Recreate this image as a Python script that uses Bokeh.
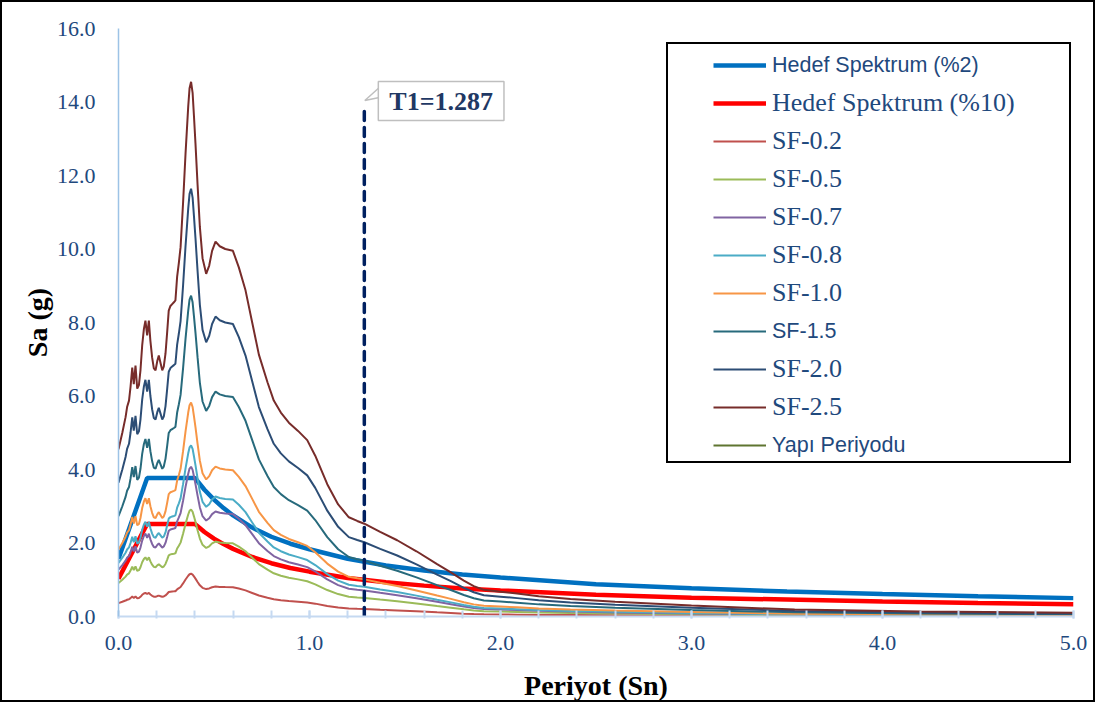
import numpy as np
from bokeh.plotting import figure
from bokeh.models import Legend, LegendItem, FixedTicker, NumeralTickFormatter, Label, Range1d
from bokeh.embed import file_html
from bokeh.resources import INLINE

# ---------------- data ----------------
periods = [0.00, 0.02, 0.037, 0.045, 0.055, 0.063, 0.072, 0.080, 0.089, 0.098,
           0.107, 0.115, 0.124, 0.133, 0.141, 0.150, 0.159, 0.167, 0.176, 0.185,
           0.194, 0.203, 0.211, 0.220, 0.229, 0.237, 0.246, 0.255, 0.263, 0.272,
           0.281, 0.290, 0.298, 0.307, 0.316, 0.325, 0.338, 0.351, 0.365, 0.372,
           0.380, 0.388, 0.395, 0.403, 0.414, 0.426, 0.440, 0.459, 0.475, 0.490,
           0.508, 0.530, 0.559, 0.599, 0.630, 0.665, 0.700, 0.735, 0.780, 0.813,
           0.850, 0.892, 0.940, 0.988, 1.030, 1.093, 1.150, 1.206, 1.250, 1.287,
           1.370, 1.459, 1.560, 1.668, 1.740, 1.808, 1.860, 1.913, 2.000, 2.087,
           2.200, 2.366, 2.600, 3.000, 3.540, 4.200, 5.000]

# spectrum of the record at SF = 1.0 (Sa, g)
base_sa = [1.82, 2.00, 2.17, 2.28, 2.35, 2.50, 2.71, 2.53, 2.73, 2.48,
           2.52, 2.68, 2.95, 3.13, 3.22, 3.06, 3.22, 3.00, 2.82, 2.70,
           2.68, 2.78, 2.84, 2.76, 2.68, 2.72, 2.86, 3.10, 3.33, 3.38,
           3.40, 3.42, 3.44, 3.70, 3.85, 4.02, 4.50, 5.04, 5.55, 5.75,
           5.82, 5.70, 5.45, 5.15, 4.70, 4.24, 3.90, 3.73, 3.82, 3.98,
           4.08, 4.03, 4.00, 3.98, 3.80, 3.55, 3.20, 2.85, 2.55, 2.35,
           2.22, 2.11, 2.02, 1.92, 1.75, 1.44, 1.22, 1.08, 1.04, 1.01,
           0.92, 0.83, 0.71, 0.57, 0.48, 0.39, 0.33, 0.29, 0.27, 0.25,
           0.22, 0.19, 0.16, 0.12, 0.075, 0.055, 0.04]

scale_factors = [0.2, 0.5, 0.7, 0.8, 1.0, 1.5, 2.0, 2.5]
sf_labels = ["SF-0.2", "SF-0.5", "SF-0.7", "SF-0.8", "SF-1.0", "SF-1.5", "SF-2.0", "SF-2.5"]

target_periods = [0.00, 0.15, 0.40, 0.45, 0.50, 0.55, 0.60, 0.70, 0.80, 0.90, 1.00,
                  1.20, 1.40, 1.60, 1.80, 2.00, 2.50, 3.00, 3.50, 4.00, 4.50, 5.00]
target_2 = [1.57, 3.77, 3.77, 3.45, 3.18, 2.95, 2.75, 2.42, 2.17, 1.98, 1.83,
            1.57, 1.39, 1.25, 1.14, 1.06, 0.88, 0.77, 0.68, 0.61, 0.55, 0.50]
target_10 = [1.03, 2.52, 2.52, 2.30, 2.12, 1.97, 1.84, 1.62, 1.45, 1.32, 1.22,
             1.05, 0.93, 0.84, 0.76, 0.71, 0.59, 0.51, 0.46, 0.41, 0.37, 0.335]

t1_period = 1.287
t1_line_sa = [0.0, 13.85]

x_tick_values = [0, 1, 2, 3, 4, 5]
x_minor_values = [round(0.2 * i, 1) for i in range(26)]
y_tick_values = [0, 2, 4, 6, 8, 10, 12, 14, 16]

legend_labels = ["Hedef Spektrum (%2)", "Hedef Spektrum (%10)"] + sf_labels + ["Yapı Periyodu"]

# ---------------- styles ----------------
SERIF = "Liberation Serif"
SANS = "Liberation Sans"
TXT = "#1F497D"
sf_colors = ["#C0504D", "#9BBB59", "#8064A2", "#4BACC6", "#F79646",
             "#276A7C", "#2C4D75", "#772C2A"]

W, H = 1095, 702
MBL, MBR, MBT, MBB = 116, 24, 26, 88
FRAME_W = W - MBL - MBR
FRAME_H = H - MBT - MBB

p = figure(width=W, height=H, x_range=Range1d(0, 5), y_range=Range1d(0, 16),
           output_backend="svg", toolbar_location=None,
           min_border_left=MBL, min_border_right=MBR,
           min_border_top=MBT, min_border_bottom=MBB,
           styles={"border": "2px solid black"})
p.grid.visible = False
p.outline_line_color = None
p.background_fill_color = "white"
p.border_fill_color = "white"

xa = p.xaxis[0]
xa.ticker = FixedTicker(ticks=x_tick_values, minor_ticks=x_minor_values)
xa.formatter = NumeralTickFormatter(format="0.0")
xa.axis_line_color = "#C5D9F1"
xa.axis_line_width = 2
xa.major_tick_line_color = "#C5D9F1"
xa.major_tick_line_width = 2
xa.major_tick_in = 6
xa.major_tick_out = 2
xa.minor_tick_line_color = "#C5D9F1"
xa.minor_tick_line_width = 2
xa.minor_tick_in = 6
xa.minor_tick_out = 2
xa.major_label_text_font = SERIF
xa.major_label_text_font_size = "22px"
xa.major_label_text_color = TXT
xa.major_label_standoff = 17
xa.axis_label = "Periyot (Sn)"
xa.axis_label_text_font = SERIF
xa.axis_label_text_font_size = "28px"
xa.axis_label_text_font_style = "bold"
xa.axis_label_text_color = "black"
xa.axis_label_standoff = 17

ya = p.yaxis[0]
ya.ticker = FixedTicker(ticks=y_tick_values)
ya.formatter = NumeralTickFormatter(format="0.0")
ya.axis_line_color = "#9DC3E6"
ya.axis_line_width = 1.5
ya.major_tick_line_color = None
ya.minor_tick_line_color = None
ya.major_label_text_font = SERIF
ya.major_label_text_font_size = "22px"
ya.major_label_text_color = TXT
ya.major_label_standoff = 17
ya.axis_label = "Sa (g)"
ya.axis_label_text_font = SERIF
ya.axis_label_text_font_size = "28px"
ya.axis_label_text_font_style = "bold"
ya.axis_label_text_color = "black"
ya.axis_label_standoff = 1

# ---------------- series ----------------
renderers = []
renderers.append(p.line(target_periods, target_2, line_color="#0070C0", line_width=4.5))
renderers.append(p.line(target_periods, target_10, line_color="#FF0000", line_width=4.5))
for sf, col in zip(scale_factors, sf_colors):
    renderers.append(p.line(periods, [sf * v for v in base_sa], line_color=col, line_width=2))
# legend entry of the structure period (its own colour in the legend only)
renderers.append(p.line([t1_period, t1_period], t1_line_sa, line_color="#5F7530",
                        line_width=2, visible=False))

p.line([t1_period, t1_period], t1_line_sa, line_color="#002060", line_width=3.5,
       line_dash="9 7", line_cap="round")

# callout for T1
pxx = FRAME_W / 5.0
pxy = FRAME_H / 16.0
top = t1_line_sa[1]
p.patch([t1_period + 15 / pxx, t1_period + 0.5 / pxx, t1_period + 15 / pxx],
        [top + 20 / pxy, top + 7 / pxy, top + 10 / pxy],
        fill_color="white", line_color="#BFBFBF", line_width=1.5)
p.add_layout(Label(x=t1_period, y=top, x_offset=14, y_offset=6.5,
                   text=f"T1={t1_period}", text_align="left", text_baseline="middle",
                   text_font=SERIF, text_font_size="26px", text_font_style="bold",
                   text_color="#1F3864", border_line_color="#BFBFBF", border_line_width=1.5,
                   background_fill_color="white", padding=(11, 5)))

# ---------------- legend ----------------
box_dummy = p.line([t1_period], [top], line_alpha=0, visible=False)
box_legend = Legend(items=[LegendItem(label=" ", renderers=[box_dummy])],
                    location=(548, 153), glyph_width=401, glyph_height=417,
                    label_width=0, label_height=0, label_standoff=0, padding=0, margin=0,
                    spacing=0, label_text_font_size="1px",
                    border_line_color="black", border_line_width=2, border_line_alpha=1,
                    background_fill_color="white", background_fill_alpha=1)
p.add_layout(box_legend)

row_fonts = ["sans", "serif", "serif", "serif", "serif", "serif", "serif",
             "sans", "serif", "serif", "sans"]
groups = []
start = 0
for i in range(1, len(row_fonts) + 1):
    if i == len(row_fonts) or row_fonts[i] != row_fonts[start]:
        groups.append((start, i))
        start = i

ROW0 = 65 - 28      # first row centre below frame top (px)
PITCH = 38
ITEM_H = 30
for a, b in groups:
    n = b - a
    top_px = ROW0 + PITCH * a - ITEM_H / 2
    bottom_px = top_px + ITEM_H * n + (PITCH - ITEM_H) * (n - 1)
    fam = row_fonts[a]
    lg = Legend(items=[LegendItem(label=legend_labels[k], renderers=[renderers[k]]) for k in range(a, b)],
                location=(595, FRAME_H - bottom_px),
                glyph_width=53, glyph_height=ITEM_H, label_height=ITEM_H, label_width=0,
                label_standoff=6, spacing=PITCH - ITEM_H, padding=0, margin=0,
                border_line_alpha=0, background_fill_alpha=0,
                label_text_font=SANS if fam == "sans" else SERIF,
                label_text_font_size="21.5px" if fam == "sans" else "26px",
                label_text_color=TXT)
    p.add_layout(lg)

open("out.html", "w").write(file_html(p, INLINE))
